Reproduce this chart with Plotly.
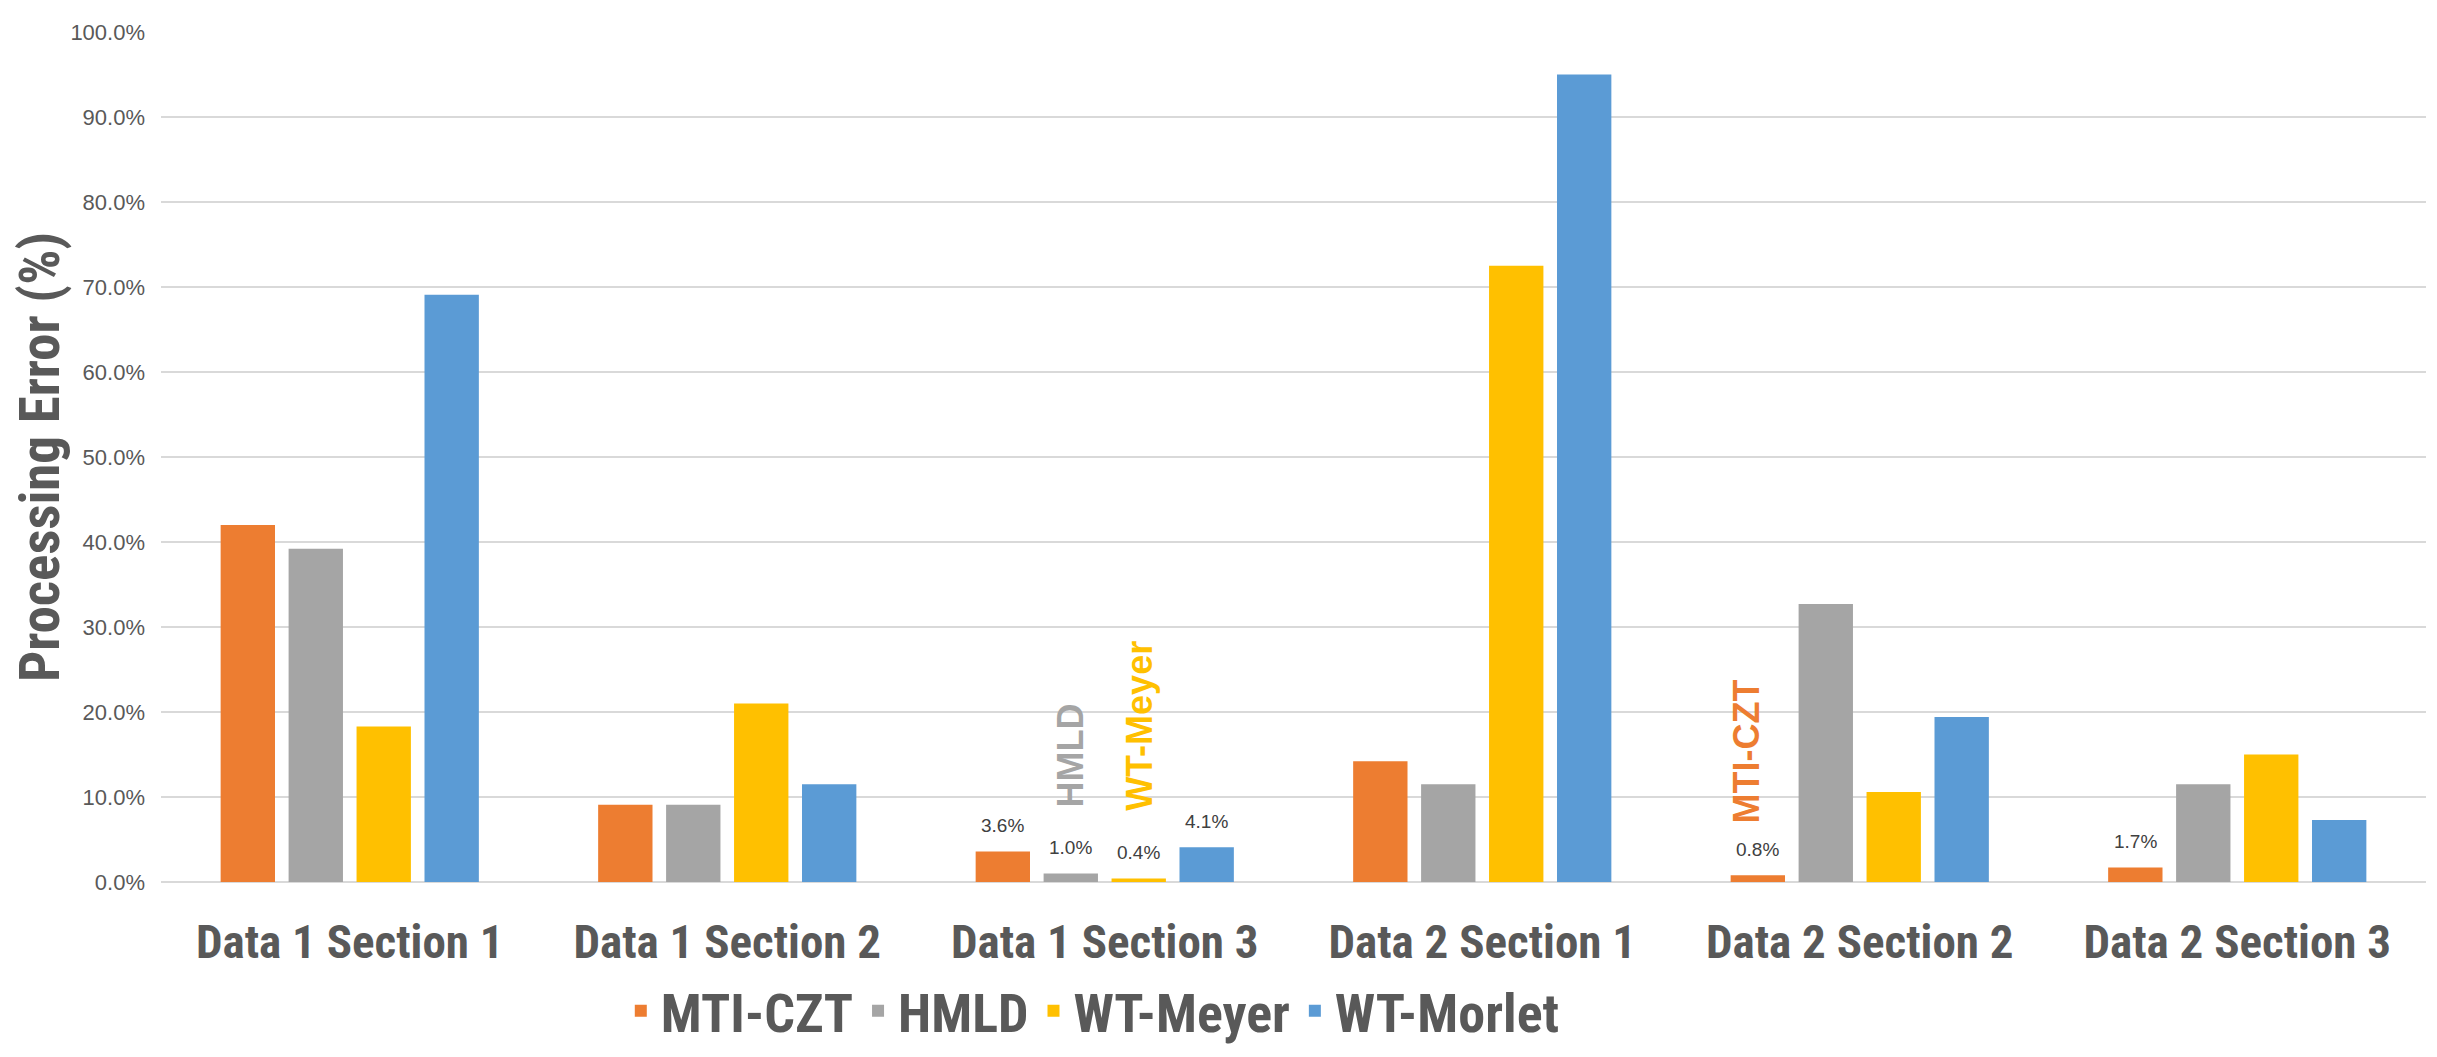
import plotly.graph_objects as go

categories = ["Data 1 Section 1", "Data 1 Section 2", "Data 1 Section 3",
              "Data 2 Section 1", "Data 2 Section 2", "Data 2 Section 3"]
series_names = ["MTI-CZT", "HMLD", "WT-Meyer", "WT-Morlet"]
mti_czt = [42.0, 9.1, 3.6, 14.2, 0.8, 1.7]
hmld = [39.2, 9.1, 1.0, 11.5, 32.7, 11.5]
wt_meyer = [18.3, 21.0, 0.4, 72.5, 10.6, 15.0]
wt_morlet = [69.1, 11.5, 4.1, 95.0, 19.4, 7.3]
# which bars carry a data label
label_mti = [False, False, True, False, True, True]
label_hmld = [False, False, True, False, False, False]
label_meyer = [False, False, True, False, False, False]
label_morlet = [False, False, True, False, False, False]
y_ticks = [0, 10, 20, 30, 40, 50, 60, 70, 80, 90, 100]
y_ticktext = [f"{v:.1f}%" for v in y_ticks]

colors = ["#ED7D31", "#A5A5A5", "#FFC000", "#5B9BD5"]
series = [mti_czt, hmld, wt_meyer, wt_morlet]
labels = [label_mti, label_hmld, label_meyer, label_morlet]

NARROW = "Liberation Sans Narrow, Arial Narrow, Roboto Condensed, Liberation Sans, sans-serif"
REG = "Liberation Sans, Arial, sans-serif"

BARGAP = 0.28
n_series = len(series)
slot = (1 - BARGAP) / n_series

fig = go.Figure()
for k, (name, vals, col, lab) in enumerate(zip(series_names, series, colors, labels)):
    fig.add_trace(go.Bar(
        x=categories, y=vals, name=name, marker=dict(color=col, line=dict(width=0)),
    ))
    # data labels above selected bars
    off = (k - (n_series - 1) / 2) * slot
    for i, (v, s) in enumerate(zip(vals, lab)):
        if s:
            fig.add_annotation(x=i + off, y=v, xref="x", yref="y", text=f"{v:.1f}%",
                               showarrow=False, yanchor="middle", xanchor="center",
                               yshift=26, font=dict(family=REG, size=19, color="#404040"))

# rotated series annotations
ann = [
    ("HMLD", 2 - 0.09, 8.5, "#A5A5A5"),
    ("WT-Meyer", 2 + 0.09, 8.1, "#FFC000"),
    ("MTI-CZT", 4 - 0.30, 6.6, "#ED7D31"),
]
for t, x, y, c in ann:
    fig.add_annotation(x=x, y=y, xref="x", yref="y", text=f"<b>{t}</b>", textangle=-90,
                       showarrow=False, yanchor="bottom", xanchor="center",
                       font=dict(family=REG, size=36, color=c))

fig.update_layout(
    width=2437, height=1057,
    margin=dict(l=153, r=19, t=24, b=170),
    paper_bgcolor="white", plot_bgcolor="white",
    barmode="group", bargap=BARGAP, bargroupgap=0.2,
    showlegend=True,
    legend=dict(orientation="h", x=0.203, xanchor="left", y=-0.152, yanchor="middle",
                font=dict(family=NARROW, size=54, color="#595959", weight="bold"),
                traceorder="normal"),
    xaxis=dict(showgrid=False, showline=False, ticks="", zeroline=False,
               tickfont=dict(family=NARROW, size=47, color="#595959", weight="bold"),
               ticklabelstandoff=28),
    yaxis=dict(range=[0, 100], tickvals=y_ticks, ticktext=y_ticktext,
               showgrid=True, gridcolor="#D9D9D9", gridwidth=2,
               zeroline=True, zerolinecolor="#D9D9D9", zerolinewidth=2,
               showline=False, ticks="",
               tickfont=dict(family=REG, size=22, color="#595959"),
               ticklabelstandoff=15,
               title=dict(text="<b>Processing Error (%)</b>",
                          font=dict(family=NARROW, size=55, color="#595959"),
                          standoff=2)),
)

fig.write_html("out.html")
